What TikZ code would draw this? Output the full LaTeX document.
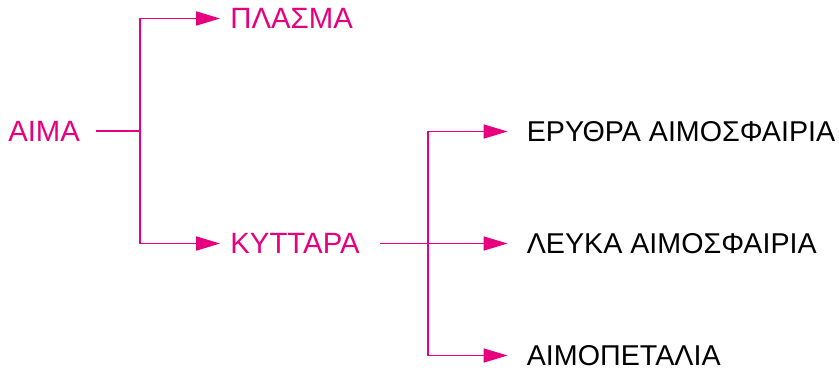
\documentclass[tikz,border=0pt]{standalone}
\usepackage{fontspec}
\setmainfont{Liberation Sans}
\usetikzlibrary{arrows.meta}
\definecolor{sangre}{RGB}{230,0,126}

\begin{document}
\begin{tikzpicture}[
				grow'=right,
				every node/.style={anchor=west, inner sep=0pt, text=sangre, font=\fontsize{22}{26}\selectfont},
				edge from parent/.style={draw, sangre, line width=1.25pt, -{Triangle[length=18pt, width=10.5pt]}},
				level 1/.style={sibling distance=168.75pt, level distance=139.5pt,
					shorten <=12pt, shorten >=7.5pt,
					edge from parent path={(\tikzparentnode.east) -- ++(45pt,0) |- (\tikzchildnode.west)}},
				level 2/.style={sibling distance=84pt, level distance=173.6pt,
					shorten <=15pt, shorten >=14.2pt,
					every node/.append style={text=black, font=\fontsize{21.5}{26}\selectfont},
					edge from parent path={(\tikzparentnode.east) -- ++(51pt,0) |- (\tikzchildnode.west)}}
			]
			\useasboundingbox (0,0) rectangle (629.25pt,-276.75pt);
			% Nodo raíz
			\node (aima) at (6pt,-98.25pt) {ΑΙΜΑ}
			% Primer nivel
			child { node (plasma) {ΠΛΑΣΜΑ} }
			child { node (kyttara) {ΚΥΤΤΑΡΑ}
					% Segundo nivel
					child { node (erythra) {ΕΡΥΘΡΑ ΑΙΜΟΣΦΑΙΡΙΑ} }
					child { node (leuka) {ΛΕΥΚΑ ΑΙΜΟΣΦΑΙΡΙΑ} }
					child { node (aimopetalia) {ΑΙΜΟΠΕΤΑΛΙΑ} }
				};
		\end{tikzpicture}
\end{document}
